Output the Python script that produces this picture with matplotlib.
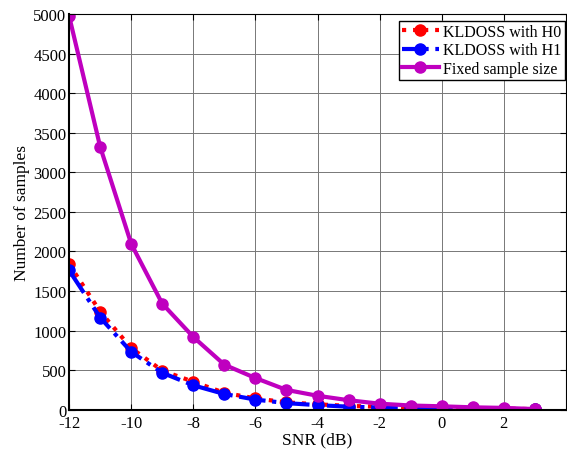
import matplotlib.pyplot as plt
import numpy as np

plt.rcParams['font.family'] = ['Liberation Serif', 'DejaVu Serif']
plt.rcParams['axes.unicode_minus'] = False

snr = np.arange(-12, 4)
h0 = [1840, 1240, 780, 495, 355, 215, 145, 95, 70, 50, 40, 30, 25, 20, 15, 10]
h1 = [1760, 1165, 732, 468, 310, 200, 130, 85, 60, 40, 30, 20, 15, 10, 10, 8]
fixed = [4970, 3320, 2095, 1340, 920, 570, 402, 252, 178, 122, 78, 55, 45, 32, 25, 10]

fig = plt.figure(figsize=(5.67, 4.52), dpi=100)
ax = fig.add_axes([0.122, 0.091, 0.876, 0.876])

ax.plot(snr, h0, ':', color='red', lw=3, marker='o', ms=8, label='KLDOSS with H0')
ax.plot(snr, h1, '-.', color='blue', lw=3, marker='o', ms=8, label='KLDOSS with H1')
ax.plot(snr, fixed, '-', color='#BF00BF', lw=3, marker='o', ms=8, label='Fixed sample size')

ax.set_xlim(-12, 4)
ax.set_ylim(0, 5000)
ax.set_xticks(np.arange(-12, 3, 2))
ax.set_yticks(np.arange(0, 5001, 500))
ax.grid(True, color='#777777', lw=0.7)
ax.tick_params(direction='in', labelsize=12, length=4, top=True, right=True)
ax.tick_params(axis='x', pad=4)
ax.tick_params(axis='y', pad=2)
ax.set_xlabel('SNR (dB)', fontsize=12.5, labelpad=0)
ax.set_ylabel('Number of samples', fontsize=12.5, labelpad=2)
for s in ['left', 'bottom']:
    ax.spines[s].set_linewidth(1.5)

leg = ax.legend(loc='upper right', fontsize=11.5, fancybox=False, edgecolor='black',
                framealpha=1, borderpad=0.2, handlelength=2.3, labelspacing=0.15,
                handletextpad=0.3, borderaxespad=0.0, bbox_to_anchor=(0.998, 0.983))
leg.get_frame().set_linewidth(1)

fig.savefig('out.png', dpi=100)
